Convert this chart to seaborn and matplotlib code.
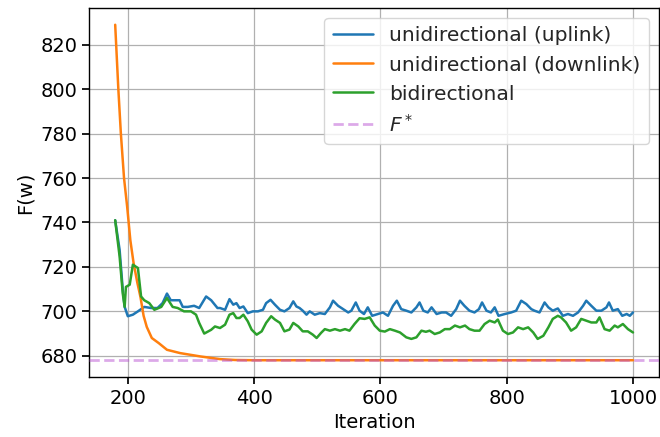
import numpy as np
import pandas as pd
import matplotlib
matplotlib.use("Agg")
import matplotlib.pyplot as plt
import seaborn as sns

# Objective value F(w) per iteration for the three communication schemes
uplink_iter = [180, 187, 192, 195, 200, 208, 216, 226, 237, 247, 255, 262, 268, 282, 287, 295, 305, 313,
               324, 332, 342, 346, 354, 361, 367, 372, 377, 383, 390, 398, 406, 414, 419, 426, 433, 441,
               448, 456, 462, 467, 472, 477, 483, 488, 496, 504, 512, 520, 525, 533, 541, 549, 554, 561,
               567, 574, 580, 587, 596, 604, 612, 620, 626, 633, 641, 649, 657, 662, 668, 675, 681, 689,
               697, 704, 712, 720, 726, 733, 741, 749, 756, 761, 768, 775, 781, 787, 797, 807, 815, 823,
               831, 839, 844, 852, 860, 866, 873, 881, 889, 897, 905, 913, 921, 926, 934, 942, 950, 958,
               962, 968, 976, 983, 990, 995, 1000]
uplink_F = [741, 727.7, 709.7, 702, 697.8, 698.5, 700, 702, 701.5, 701.5, 703.7, 708, 705, 705, 702, 702,
            702.5, 701.5, 706.7, 705, 701.5, 701.5, 700.7, 705.5, 703, 703.7, 701.5, 702.2, 699.2, 700, 700,
            700.7, 703.7, 705.2, 703, 700.7, 700, 701.5, 704.5, 702.2, 701.5, 700.3, 698.5, 700, 698.5,
            699.2, 698.8, 701.8, 704.8, 702.5, 701, 699.5, 700.3, 704, 700.3, 698.8, 701.8, 698, 698.8,
            699.5, 698, 702.5, 704.8, 701, 700.3, 699.5, 701.8, 704, 700.3, 699.5, 701.8, 698.8, 699.5,
            699.5, 698, 701, 704.8, 702.5, 700.3, 699.5, 701, 704, 700.3, 699.5, 701.8, 698, 698.8, 699.5,
            700.3, 704.8, 703.3, 701, 700.3, 699.5, 704, 701.8, 700.3, 701.3, 698, 698.8, 698, 699.5,
            702.5, 704.8, 702.5, 700.3, 700.3, 701.8, 704, 700.3, 701, 698, 698.8, 698, 699.5]

downlink_iter = [180, 185, 189, 194, 199, 204, 209, 215, 220, 225, 230, 238, 249, 262, 283, 315, 346, 370,
                 400, 500, 600, 700, 800, 900, 1000]
downlink_F = [829, 800, 780, 760, 747, 732, 722, 713, 706.5, 698, 693, 688, 685.7, 682.7, 681.2, 679.7,
              678.5, 678.1, 678, 678, 678, 678, 678, 678, 678]

bidir_iter = [180, 187, 192, 195, 197, 203, 208, 216, 221, 226, 234, 242, 253, 262, 271, 279, 289, 300,
              308, 313, 321, 332, 338, 346, 354, 361, 367, 372, 377, 383, 390, 396, 404, 412, 419, 427,
              433, 441, 448, 456, 462, 470, 477, 485, 493, 499, 506, 512, 520, 528, 536, 544, 551, 559,
              567, 575, 583, 591, 599, 607, 615, 623, 631, 641, 649, 657, 665, 672, 678, 686, 694, 702,
              710, 718, 726, 734, 741, 749, 757, 765, 773, 781, 786, 794, 802, 810, 818, 826, 834, 842,
              849, 858, 866, 873, 881, 886, 894, 902, 910, 918, 926, 934, 942, 947, 955, 963, 971, 976,
              984, 992, 1000]
bidir_F = [741, 724.7, 708, 702, 711, 712, 721, 719.5, 706.7, 705, 703.7, 700.7, 702, 706, 702, 701.5, 700,
           700, 698.5, 694.8, 690, 691.7, 693.2, 692.5, 694, 698.5, 699.2, 697, 697, 698.5, 695.5, 691.8,
           689.5, 691, 694.8, 697.8, 696.3, 694.8, 691, 691.8, 694.8, 693.2, 691, 691, 689.5, 688, 690.3,
           692, 691.3, 692, 691.3, 692, 691.3, 694.3, 696.9, 696.6, 697.3, 693.6, 691.3, 690.9, 692, 691.3,
           690.5, 688.3, 687.6, 688.3, 691.3, 690.8, 691.3, 689.8, 690.5, 692, 692, 693.6, 692.8, 693.6, 692,
           691.3, 691.3, 694.3, 695.8, 695, 696.3, 691.3, 689.8, 690.5, 692.8, 692, 692.8, 690.5, 687.6,
           689, 692.8, 696.6, 698, 697.3, 695, 691.3, 692.8, 696.6, 695.8, 695, 695, 697.3, 692, 691.3,
           693.6, 692.8, 694.3, 692, 690.5]

F_star = 678

series = [
    ("unidirectional (uplink)", uplink_iter, uplink_F, "#1f77b4"),
    ("unidirectional (downlink)", downlink_iter, downlink_F, "#ff7f0e"),
    ("bidirectional", bidir_iter, bidir_F, "#2ca02c"),
]

sns.set_theme(style="ticks")
plt.rcParams.update({
    "font.family": ["DejaVu Sans"],
    "font.size": 14,
    "axes.labelsize": 14,
    "xtick.labelsize": 14,
    "ytick.labelsize": 14,
    "legend.fontsize": 14.6,
    "axes.edgecolor": "black",
    "axes.linewidth": 1.0,
    "xtick.color": "black",
    "ytick.color": "black",
    "axes.labelcolor": "black",
    "xtick.major.size": 4.9,
    "ytick.major.size": 4.9,
})

fig = plt.figure(figsize=(6.6, 4.37), dpi=100)
ax = fig.add_axes([0.1353, 0.1373, 0.863, 0.8444])

for name, it, vals, color in series:
    df = pd.DataFrame({"Iteration": it, "F": vals})
    sns.lineplot(data=df, x="Iteration", y="F", ax=ax, color=color, linewidth=1.8,
                 label=name, estimator=None, sort=False)

# optimum value, drawn on top of the curves
ax.axhline(F_star, color="mediumorchid", alpha=0.5, linestyle="--", linewidth=2.0,
           label="$F^*$", zorder=5)

ax.grid(True, color="#b0b0b0", linewidth=0.9)
ax.set_axisbelow(True)
ax.set_xlabel("Iteration")
ax.set_ylabel("F(w)")
ax.set_xticks([200, 400, 600, 800, 1000])
ax.set_yticks(np.arange(680, 821, 20))
ax.margins(x=0.05, y=0.05)

ax.legend(loc="upper right", framealpha=0.8, edgecolor="#cccccc", fancybox=True)

fig.savefig("out.png", dpi=100)
